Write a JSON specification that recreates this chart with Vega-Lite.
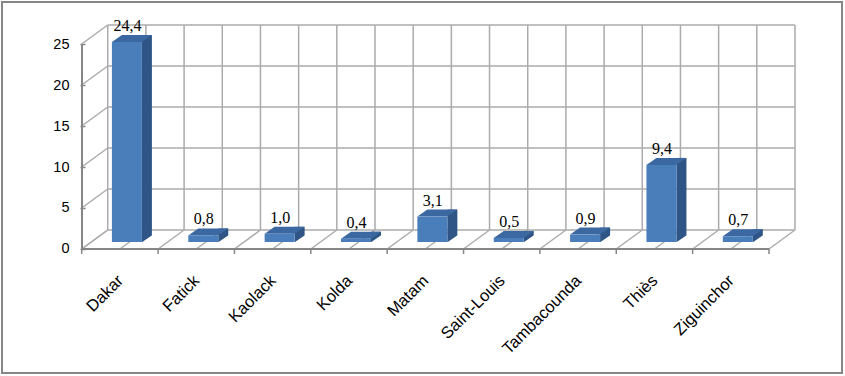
{
  "$schema": "https://vega.github.io/schema/vega-lite/v6.json",
  "width": 840,
  "height": 371,
  "autosize": {"type": "none"},
  "padding": {"left": 2, "top": 2, "right": 3, "bottom": 3},
  "background": "white",
  "config": {
    "view": {"stroke": "#868686", "strokeWidth": 2},
    "locale": {"number": {"decimal": ",", "thousands": " ", "grouping": [3], "currency": ["", ""]}},
    "axisX": {"offset": -124, "ticks": false, "domain": false, "grid": false, "labelAngle": -45, "labelAlign": "right", "labelBaseline": "top", "labelFont": "Liberation Sans", "labelFontSize": 16.5, "labelColor": "#000000", "labelPadding": 23, "labelOffset": -5},
    "axisY": {"offset": -83, "ticks": true, "tickSize": 5, "tickColor": "#868686", "tickWidth": 1.5, "domain": false, "grid": false, "labelFont": "Liberation Sans", "labelFontSize": 14.5, "labelColor": "#000000", "labelPadding": 11}
  },
  "datasets": {
    "regions": [
      {"region": "Dakar", "value": 24.4},
      {"region": "Fatick", "value": 0.8},
      {"region": "Kaolack", "value": 1.0},
      {"region": "Kolda", "value": 0.4},
      {"region": "Matam", "value": 3.1},
      {"region": "Saint-Louis", "value": 0.5},
      {"region": "Tambacounda", "value": 0.9},
      {"region": "Thiès", "value": 9.4},
      {"region": "Ziguinchor", "value": 0.7}
    ],
    "grid": [{"v": 0}, {"v": 5}, {"v": 10}, {"v": 15}, {"v": 20}, {"v": 25}]
  },
  "layer": [
    {
      "data": {"name": "grid"},
      "mark": {"type": "rule", "color": "#ababab", "strokeWidth": 1.5, "xOffset": 26, "x2Offset": 26, "yOffset": -19},
      "encoding": {
        "x": {"datum": "Dakar", "type": "nominal", "bandPosition": 0, "title": null, "scale": {"type": "band", "domain": ["Dakar", "Fatick", "Kaolack", "Kolda", "Matam", "Saint-Louis", "Tambacounda", "Thiès", "Ziguinchor"], "paddingInner": 0, "paddingOuter": 1.0507, "align": 0.522}},
        "x2": {"datum": "Ziguinchor", "bandPosition": 1},
        "y": {"field": "v", "type": "quantitative", "title": null, "scale": {"domain": [-15.122, 30.122], "nice": false, "zero": false}, "axis": {"values": [0, 5, 10, 15, 20, 25]}}
      }
    },
    {
      "data": {"name": "grid"},
      "mark": {"type": "rule", "color": "#ababab", "strokeWidth": 1.5, "x2Offset": 26, "y2Offset": -19},
      "encoding": {
        "x": {"datum": "Dakar", "type": "nominal", "bandPosition": 0, "title": null},
        "x2": {"datum": "Dakar", "bandPosition": 0},
        "y": {"field": "v", "type": "quantitative", "title": null},
        "y2": {"field": "v"}
      }
    },
    {
      "data": {"name": "regions"},
      "mark": {"type": "rule", "color": "#ababab", "strokeWidth": 1.5, "x2Offset": 26, "y2Offset": -19},
      "encoding": {
        "x": {"field": "region", "type": "nominal", "bandPosition": 0, "title": null},
        "x2": {"field": "region", "bandPosition": 0},
        "y": {"datum": 0, "type": "quantitative", "title": null},
        "y2": {"datum": 0}
      }
    },
    {
      "data": {"name": "regions"},
      "mark": {"type": "rule", "color": "#ababab", "strokeWidth": 1.5, "x2Offset": 26, "y2Offset": -19},
      "encoding": {
        "x": {"field": "region", "type": "nominal", "bandPosition": 0.5, "title": null},
        "x2": {"field": "region", "bandPosition": 0.5},
        "y": {"datum": 0, "type": "quantitative", "title": null},
        "y2": {"datum": 0}
      }
    },
    {
      "data": {"name": "regions"},
      "transform": [{"filter": "datum.region === 'Ziguinchor'"}],
      "mark": {"type": "rule", "color": "#ababab", "strokeWidth": 1.5, "x2Offset": 26, "y2Offset": -19},
      "encoding": {
        "x": {"field": "region", "type": "nominal", "bandPosition": 1, "title": null},
        "x2": {"field": "region", "bandPosition": 1},
        "y": {"datum": 0, "type": "quantitative", "title": null},
        "y2": {"datum": 0}
      }
    },
    {
      "data": {"name": "regions"},
      "mark": {"type": "rule", "color": "#ababab", "strokeWidth": 1.5, "xOffset": 26, "yOffset": -19, "y2Offset": -19},
      "encoding": {
        "x": {"field": "region", "type": "nominal", "bandPosition": 0, "title": null},
        "y": {"datum": 0, "type": "quantitative", "title": null},
        "y2": {"datum": 25}
      }
    },
    {
      "data": {"name": "regions"},
      "mark": {"type": "rule", "color": "#ababab", "strokeWidth": 1.5, "xOffset": 26, "yOffset": -19, "y2Offset": -19},
      "encoding": {
        "x": {"field": "region", "type": "nominal", "bandPosition": 0.5, "title": null},
        "y": {"datum": 0, "type": "quantitative", "title": null},
        "y2": {"datum": 25}
      }
    },
    {
      "data": {"name": "regions"},
      "transform": [{"filter": "datum.region === 'Ziguinchor'"}],
      "mark": {"type": "rule", "color": "#ababab", "strokeWidth": 1.5, "xOffset": 26, "yOffset": -19, "y2Offset": -19},
      "encoding": {
        "x": {"field": "region", "type": "nominal", "bandPosition": 1, "title": null},
        "y": {"datum": 0, "type": "quantitative", "title": null},
        "y2": {"datum": 25}
      }
    },
    {
      "data": {"name": "regions"},
      "mark": {"type": "rule", "color": "#868686", "strokeWidth": 1.5},
      "encoding": {
        "x": {"datum": "Dakar", "type": "nominal", "bandPosition": 0, "title": null},
        "y": {"datum": 0, "type": "quantitative", "title": null},
        "y2": {"datum": 25}
      }
    },
    {
      "data": {"name": "regions"},
      "mark": {"type": "rule", "color": "#868686", "strokeWidth": 1.5},
      "encoding": {
        "x": {"datum": "Dakar", "type": "nominal", "bandPosition": 0, "title": null},
        "x2": {"datum": "Ziguinchor", "bandPosition": 1},
        "y": {"datum": 0, "type": "quantitative", "title": null}
      }
    },
    {
      "data": {"name": "regions"},
      "mark": {"type": "rule", "color": "#868686", "strokeWidth": 1.5, "y2Offset": 5},
      "encoding": {
        "x": {"field": "region", "type": "nominal", "bandPosition": 0, "title": null},
        "y": {"datum": 0, "type": "quantitative", "title": null},
        "y2": {"datum": 0}
      }
    },
    {
      "data": {"name": "regions"},
      "transform": [{"filter": "datum.region === 'Ziguinchor'"}],
      "mark": {"type": "rule", "color": "#868686", "strokeWidth": 1.5, "y2Offset": 5},
      "encoding": {
        "x": {"field": "region", "type": "nominal", "bandPosition": 1, "title": null},
        "y": {"datum": 0, "type": "quantitative", "title": null},
        "y2": {"datum": 0}
      }
    },
    {
      "data": {"name": "regions"},
      "mark": {"type": "bar", "color": "#2f5586", "width": 10, "xOffset": 27, "yOffset": -14, "y2Offset": -7},
      "encoding": {
        "x": {"field": "region", "type": "nominal", "title": null},
        "y": {"field": "value", "type": "quantitative", "title": null},
        "y2": {"datum": 0}
      }
    },
    {
      "data": {"name": "regions"},
      "mark": {"type": "point", "shape": "M15,0.3L25.6,0.3L25.6,-7Z", "size": 4, "filled": true, "color": "#ffffff", "opacity": 1, "strokeWidth": 0, "xOffset": 7, "yOffset": -7},
      "encoding": {
        "x": {"field": "region", "type": "nominal", "title": null},
        "y": {"datum": 0, "type": "quantitative", "title": null}
      }
    },
    {
      "data": {"name": "regions"},
      "mark": {"type": "point", "shape": "M-15,0L15,0L25,-7L-5,-7Z", "size": 4, "filled": true, "color": "#3c68a2", "opacity": 1, "strokeWidth": 0, "xOffset": 7, "yOffset": -7},
      "encoding": {
        "x": {"field": "region", "type": "nominal", "title": null},
        "y": {"field": "value", "type": "quantitative", "title": null}
      }
    },
    {
      "data": {"name": "regions"},
      "mark": {"type": "bar", "color": "#4a7ebb", "width": 30, "xOffset": 7, "yOffset": -7, "y2Offset": -7},
      "encoding": {
        "x": {"field": "region", "type": "nominal", "title": null},
        "y": {"field": "value", "type": "quantitative", "title": null},
        "y2": {"datum": 0}
      }
    },
    {
      "data": {"name": "regions"},
      "mark": {"type": "text", "font": "Liberation Serif", "fontSize": 16, "color": "#000000", "baseline": "alphabetic", "align": "center", "xOffset": 7.5, "yOffset": -18},
      "encoding": {
        "x": {"field": "region", "type": "nominal", "title": null},
        "y": {"field": "value", "type": "quantitative", "title": null},
        "text": {"field": "value", "type": "quantitative", "format": ".1f"}
      }
    }
  ]
}
